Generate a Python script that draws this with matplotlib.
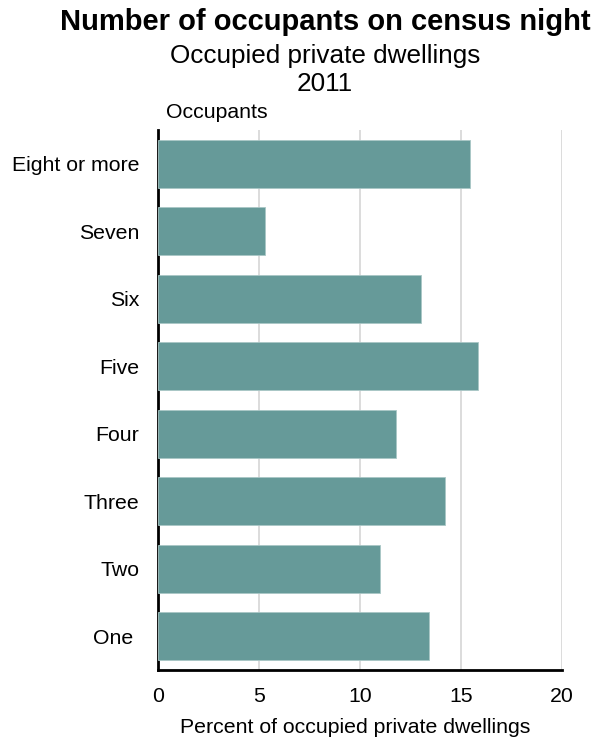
import matplotlib.pyplot as plt

plt.rcParams['font.family'] = ['Liberation Sans', 'DejaVu Sans']

# Occupants per dwelling, census night 2011
categorias = ['Eight or more', 'Seven', 'Six', 'Five', 'Four', 'Three', 'Two', 'One ']
porcentajes = [15.45, 5.28, 13.0, 15.86, 11.78, 14.22, 10.99, 13.42]
ticks_x = [0, 5, 10, 15, 20]

W, H = 595, 738
fig = plt.figure(figsize=(W / 100, H / 100), dpi=100)
ax = fig.add_axes([158 / W, (H - 670) / H, (562 - 158) / W, (670 - 130) / H])

pos = list(range(len(categorias)))
ax.barh(pos, porcentajes, height=0.715, color='#669a99',
        edgecolor='#a9c7c6', linewidth=0.6, zorder=3)

ax.set_ylim(len(categorias) - 0.5, -0.5)
ax.set_xlim(0, 20)
ax.set_yticks(pos)
ax.set_yticklabels(categorias, fontsize=15.3)
ax.set_xticks(ticks_x)
ax.set_xticklabels([str(t) for t in ticks_x], fontsize=15.3)
ax.tick_params(axis='both', length=0)
ax.tick_params(axis='y', pad=13.5)
ax.tick_params(axis='x', pad=12.5)

ax.grid(axis='x', color='#d6d6d6', linewidth=1.2, zorder=0)
ax.set_axisbelow(True)

for lado in ['top', 'right']:
    ax.spines[lado].set_visible(False)
ax.spines['left'].set_linewidth(2)
ax.spines['bottom'].set_linewidth(2)

ax.set_xlabel('Percent of occupied private dwellings', fontsize=15.3)
ax.xaxis.set_label_coords((355 - 158) / 404, -0.088)

fig.text(325 / W, 1 - 22 / H, 'Number of occupants on census night',
         ha='center', va='center', fontsize=21, fontweight='bold')
fig.text(325 / W, 1 - 56 / H, 'Occupied private dwellings',
         ha='center', va='center', fontsize=18.8)
fig.text(325 / W, 1 - 84 / H, '2011',
         ha='center', va='center', fontsize=18.8)
fig.text(166 / W, 1 - 113 / H, 'Occupants',
         ha='left', va='center', fontsize=15.3)

fig.savefig('out.png', dpi=100)
